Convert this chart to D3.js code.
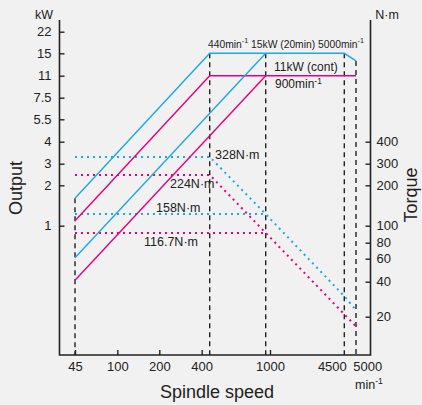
<!DOCTYPE html>
<html>
<head>
<meta charset="utf-8">
<script src="https://cdn.jsdelivr.net/npm/d3@7"></script>
<style>
    body { margin: 0; background: #f1f1f1; }
    svg { display: block; font-family: "Liberation Sans", Arial, sans-serif; }
</style>
</head>
<body>
<svg width="422" height="405"></svg>
<script>
// Data
const speedTicks = [45, 100, 200, 400, 1000]
const outputTicks = [1, 2, 3, 4, 5.5, 7.5, 11, 15, 22]
const torqueTicks = [20, 40, 60, 80, 100, 200, 300, 400]
const speedMarkers = [45, 440, 900, 4500, 5000]

// output curves, [min-1, kW]
const output20min440 = [[45, 1.6], [440, 15], [4500, 15], [5000, 13.5]]
const outputCont440 = [[45, 1.09], [440, 11], [5000, 11]]
const output20min900 = [[45, 0.61], [900, 15]]
const outputCont900 = [[45, 0.41], [900, 11]]

// torque curves, [min-1, N·m]
const torque20min440 = [[45, 328], [440, 328], [900, 122], [4500, 30], [5000, 22.8]]
const torqueCont440 = [[45, 243], [440, 243], [900, 91], [4500, 21], [5000, 16.5]]
const torque20min900 = [[45, 122], [900, 122]]
const torqueCont900 = [[45, 91], [900, 91]]

const torqueLabels = ["328N·m", "224N·m", "158N·m", "116.7N·m"]

// Colors
const cyan = "#1ea8e0"
const magenta = "#e4007f"
const ink = "#222"

// Frame
const frameLeft = 59.5, frameRight = 370.5, frameTop = 20, frameBottom = 355

const svg = d3.select("svg")

// hand drawn chart, so the log scales are piecewise
const x = d3.scaleLog()
    .domain([45, 100, 200, 400, 440, 900, 1000, 4500, 5000])
    .range([75, 117.3, 159.3, 201.7, 209.7, 265.7, 270, 344.3, 356])

const y = d3.scaleLog()
    .domain([0.2, 0.4, 0.6, 0.8, 1, 2, 3, 4, 5.5, 7.5, 11, 15, 22])
    .range([316.7, 281.7, 258.7, 242.7, 225.7, 185.3, 163.7, 141.7, 119.3, 97.7, 75.7, 53.3, 31.7])

// torque axis: 100 N·m sits where 1 kW does
const yTorque = y.copy().domain(y.domain().map(d => d * 100))

const line = d3.line().x(d => x(d[0])).y(d => y(d[1]))
const torqueLine = d3.line().x(d => x(d[0])).y(d => yTorque(d[1]))

function curveY(points, s) {
    // straight segments in pixel space
    for (let i = 0; i < points.length - 1; i++) {
        const a = points[i], b = points[i + 1]
        if (s >= a[0] && s <= b[0]) {
            const t = (x(s) - x(a[0])) / (x(b[0]) - x(a[0]))
            return y(a[1]) + t * (y(b[1]) - y(a[1]))
        }
    }
    return y(points[points.length - 1][1])
}

// Speed markers
svg.append("g")
    .selectAll("line")
    .data(speedMarkers)
    .enter()
    .append("line")
    .attr("x1", d => x(d))
    .attr("x2", d => x(d))
    .attr("y1", d => curveY(output20min440, d))
    .attr("y2", frameBottom)
    .attr("stroke", ink)
    .attr("stroke-width", 1.4)
    .attr("stroke-dasharray", "5,4")

// Torque curves (dotted)
const torqueCurves = [
    { data: torque20min440, color: cyan },
    { data: torqueCont440, color: magenta },
    { data: torque20min900, color: cyan },
    { data: torqueCont900, color: magenta }
]

svg.append("g")
    .selectAll("path")
    .data(torqueCurves)
    .enter()
    .append("path")
    .attr("d", d => torqueLine(d.data))
    .attr("fill", "none")
    .attr("stroke", d => d.color)
    .attr("stroke-width", 2)
    .attr("stroke-dasharray", "2,4")

// Output curves (solid)
const outputCurves = [
    { data: output20min440, color: cyan },
    { data: outputCont440, color: magenta },
    { data: output20min900, color: cyan },
    { data: outputCont900, color: magenta }
]

svg.append("g")
    .selectAll("path")
    .data(outputCurves)
    .enter()
    .append("path")
    .attr("d", d => line(d.data))
    .attr("fill", "none")
    .attr("stroke", d => d.color)
    .attr("stroke-width", 1.4)

// Axes
function styleAxis(g) {
    g.select(".domain").remove()
    g.selectAll("line").attr("stroke", ink).attr("stroke-width", 1.4)
    g.selectAll("text").attr("fill", ink).attr("font-size", 13)
        .attr("font-family", "Liberation Sans, Arial, sans-serif")
}

svg.append("g")
    .attr("transform", `translate(${frameLeft},0)`)
    .call(d3.axisLeft(y).tickValues(outputTicks).tickFormat(d => d).tickSizeInner(-5).tickSizeOuter(0).tickPadding(8))
    .call(styleAxis)

svg.append("g")
    .attr("transform", `translate(${frameRight},0)`)
    .call(d3.axisRight(yTorque).tickValues(torqueTicks).tickFormat(d => d).tickSizeInner(-5).tickSizeOuter(0).tickPadding(6))
    .call(styleAxis)

svg.append("g")
    .attr("transform", `translate(0,${frameBottom})`)
    .call(d3.axisBottom(x).tickValues(speedTicks).tickFormat(d => d).tickSizeInner(-5).tickSizeOuter(0).tickPadding(7))
    .call(styleAxis)

svg.append("path")
    .attr("d", `M${frameLeft},${frameTop}V${frameBottom}H${frameRight}V${frameTop}`)
    .attr("fill", "none")
    .attr("stroke", ink)
    .attr("stroke-width", 1.6)

// 4500 / 5000 labels sit beside their marker lines
const endLabels = svg.append("g")
    .attr("font-size", 13)
    .attr("fill", ink)
endLabels.append("text")
    .attr("x", x(4500) + 2.5)
    .attr("y", 371)
    .attr("text-anchor", "end")
    .text("4500")
endLabels.append("text")
    .attr("x", x(5000) - 2.7)
    .attr("y", 371)
    .text("5000")

// Units and titles
function minText(sel, before, after) {
    sel.append("tspan").text(before)
    sel.append("tspan").attr("font-size", "0.7em").attr("dy", -4.5).text("-1")
    if (after) sel.append("tspan").attr("dy", 4.5).text(after)
}

const units = svg.append("g").attr("fill", ink).attr("font-size", 12.5)
units.append("text").attr("x", 44).attr("y", 18.5).attr("text-anchor", "middle").text("kW")
units.append("text").attr("x", 387).attr("y", 18.5).attr("text-anchor", "middle").text("N·m")
units.append("text").attr("x", 355).attr("y", 388.5).call(minText, "min")

const titles = svg.append("g").attr("fill", ink).attr("font-size", 18)
titles.append("text")
    .attr("transform", "translate(22,188) rotate(-90)")
    .attr("text-anchor", "middle")
    .text("Output")
titles.append("text")
    .attr("transform", "translate(416.5,195) rotate(-90)")
    .attr("text-anchor", "middle")
    .text("Torque")
titles.append("text")
    .attr("x", 217)
    .attr("y", 398)
    .attr("text-anchor", "middle")
    .text("Spindle speed")

// Annotations
const notes = svg.append("g").attr("fill", ink)

notes.append("text")
    .attr("x", 208)
    .attr("y", 47.5)
    .attr("font-size", 10.3)
    .call(sel => {
        minText(sel, "440min", " 15kW (20min) 5000min")
        sel.append("tspan").attr("font-size", "0.7em").attr("dy", -4.5).text("-1")
    })

notes.append("text")
    .attr("x", 274)
    .attr("y", 71)
    .attr("font-size", 12)
    .text("11kW (cont)")

notes.append("text")
    .attr("x", 275)
    .attr("y", 88)
    .attr("font-size", 12)
    .call(minText, "900min")

const torqueLabelPos = [[215, 159], [170, 188], [156, 212], [144, 246]]
notes.selectAll(".tq")
    .data(torqueLabels)
    .enter()
    .append("text")
    .attr("class", "tq")
    .attr("x", (d, i) => torqueLabelPos[i][0])
    .attr("y", (d, i) => torqueLabelPos[i][1])
    .attr("font-size", 12.5)
    .text(d => d)
</script>
</body>
</html>
